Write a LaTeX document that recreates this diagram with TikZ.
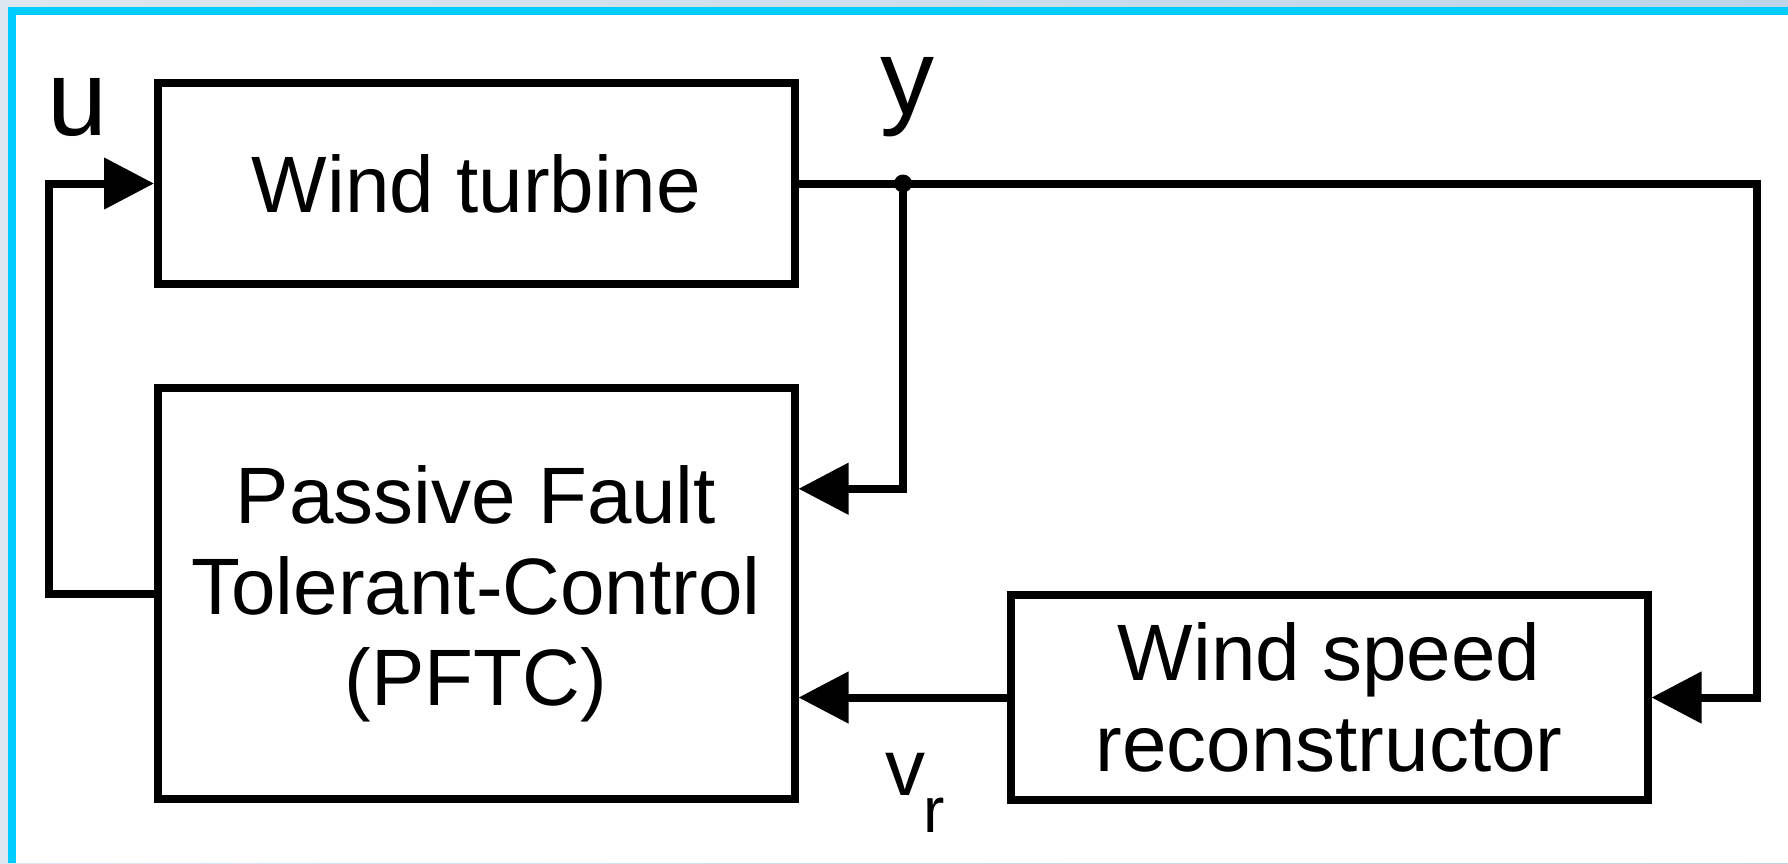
\documentclass[tikz,border=0pt]{standalone}
\usepackage{fontspec}
\setmainfont{Liberation Sans}
\usetikzlibrary{arrows.meta,positioning,calc}
\definecolor{framecyan}{RGB}{0,204,255}
\definecolor{frameleft}{RGB}{221,231,240}
\definecolor{frameright}{RGB}{190,212,232}

\begin{document}
\begin{tikzpicture}[x=0.5pt, y=-0.5pt,
    block/.style={draw, line width=4pt, minimum width=318.5pt, align=center,
        font=\fontsize{40}{45.5}\selectfont},
    wire/.style={line width=4pt},
    sig/.style={wire, -{Triangle[length=25pt, width=25pt]}},
    biglabel/.style={font=\fontsize{54}{54}\selectfont, inner sep=0pt, anchor=base},
    smalllabel/.style={inner sep=0pt, anchor=base}]
  % frame
  \useasboundingbox (0,0) rectangle (1788,863);
  \shade[left color=frameleft, right color=frameright] (0,0) rectangle (1788,863);
  \fill[white] (16,15) rectangle (1788,863);
  \fill[framecyan] (8,7) rectangle (1788,15);
  \fill[framecyan] (8,7) rectangle (16,863);

  % blocks
  \node[block, minimum height=100.5pt] (turbine) at (476.5,183.5) {Wind turbine};
  \node[block, minimum height=205.5pt] (pftc) at (476,593.5) {Passive Fault\\Tolerant-Control\\(PFTC)};
  \node[block, minimum height=102.5pt] (recon) at (1329,697.5) {Wind speed\\reconstructor};

  % connectors
  \coordinate (ytap) at (903,183.5);
  \coordinate (rturn) at (1757,183.5);
  \coordinate (fbx) at (49,593.5);
  \draw[sig] (turbine.east) -- (rturn) |- (recon.east);
  \draw[sig] (ytap) |- ($(pftc.north east)!0.25!(pftc.south east)$);
  \draw[sig] (recon.west) -- (recon.west -| pftc.east);
  \draw[sig] (pftc.west) -- (fbx) |- (turbine.west);
  \fill (ytap) circle (4.5pt);

  % labels
  \node[biglabel] (ulab) at (78,135) {u};
  \node[biglabel] (ylab) at (907,114) {y};
  \node[smalllabel, font=\fontsize{40}{40}\selectfont] (vlab) at (905,795) {v};
  \node[smalllabel, font=\fontsize{32}{32}\selectfont] (rlab) at (934,832) {r};
\end{tikzpicture}
\end{document}
